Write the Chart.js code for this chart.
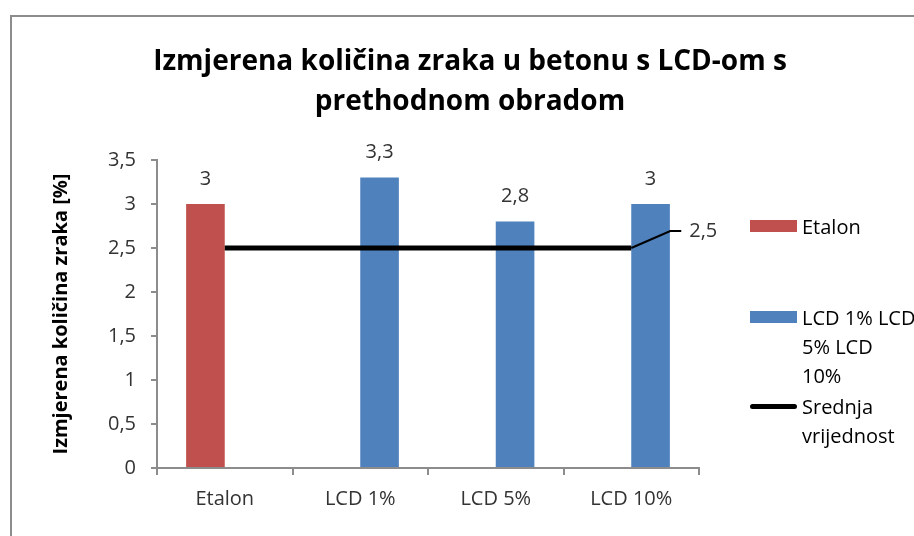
<!DOCTYPE html>
<html>
<head>
<meta charset="utf-8">
<script src="https://cdn.jsdelivr.net/npm/chart.js@4"></script>
<style>
  html, body { margin: 0; padding: 0; background: #fff; overflow: hidden; }
  body { width: 914px; height: 536px; position: relative; font-family: "Open Sans", sans-serif; }
  #frame { position: absolute; left: 10px; top: 15px; width: 1000px; height: 600px; border: 2px solid #8c8c8c; box-sizing: border-box; }
  #chart { position: absolute; left: 0; top: 0; }
  #title { position: absolute; left: 0; top: 39px; width: 940px; text-align: center; font-weight: bold; font-size: 28px; line-height: 40px; color: #000; }
  .leg { position: absolute; left: 750px; font-size: 20px; line-height: 29px; color: #000; white-space: nowrap; }
  .leg .sw { position: absolute; left: 0; width: 47px; }
  .leg .txt { position: absolute; left: 52px; top: 0; }
</style>
</head>
<body>
<div id="frame"></div>
<canvas id="chart" width="914" height="536"></canvas>
<div id="title">Izmjerena količina zraka u betonu s LCD-om s<br>prethodnom obradom</div>
<div id="legend"></div>
<script>
// chart data
var categories = ['Etalon', 'LCD 1%', 'LCD 5%', 'LCD 10%'];
var etalonValues = [3, null, null, null];
var lcdValues = [null, 3.3, 2.8, 3];
var meanValues = [2.5, 2.5, 2.5, 2.5];
var yTicks = [0, 0.5, 1, 1.5, 2, 2.5, 3, 3.5];
var seriesNames = ['Etalon', 'LCD 1% LCD 5% LCD 10%', 'Srednja vrijednost'];
var legendLines = [['Etalon'], ['LCD 1% LCD', '5% LCD', '10%'], ['Srednja', 'vrijednost']];

var RED = '#C0504D';
var BLUE = '#4F81BD';
var AXIS = '#8c8c8c';
var TXT = '#333333';

function comma(v) {
  return String(v).replace('.', ',');
}

// value labels above the bars + leader label on the last point of the mean line
var labelPlugin = {
  id: 'valueLabels',
  afterDatasetsDraw: function (chart) {
    var ctx = chart.ctx;
    ctx.save();
    ctx.font = '20px "Open Sans"';
    ctx.fillStyle = TXT;
    ctx.textAlign = 'center';
    ctx.textBaseline = 'middle';
    [0, 1].forEach(function (di) {
      var meta = chart.getDatasetMeta(di);
      var data = chart.data.datasets[di].data;
      meta.data.forEach(function (bar, i) {
        if (data[i] === null) return;
        ctx.fillText(comma(data[i]), bar.x, bar.y - 25);
      });
    });
    var lineMeta = chart.getDatasetMeta(2);
    var last = lineMeta.data[lineMeta.data.length - 1];
    var lineData = chart.data.datasets[2].data;
    ctx.strokeStyle = '#000';
    ctx.lineWidth = 2;
    ctx.beginPath();
    ctx.moveTo(last.x, last.y);
    ctx.lineTo(last.x + 39, last.y - 17);
    ctx.lineTo(last.x + 50, last.y - 17);
    ctx.stroke();
    ctx.textAlign = 'left';
    ctx.fillText(comma(lineData[lineData.length - 1]), last.x + 58, last.y - 17);
    ctx.restore();
  }
};

var chart = new Chart(document.getElementById('chart'), {
  type: 'bar',
  data: {
    labels: categories,
    datasets: [
      { label: seriesNames[0], data: etalonValues, backgroundColor: RED, order: 2 },
      { label: seriesNames[1], data: lcdValues, backgroundColor: BLUE, order: 2 },
      { type: 'line', label: seriesNames[2], data: meanValues, borderColor: '#000', borderWidth: 5,
        pointRadius: 0, fill: false, order: 1 }
    ]
  },
  options: {
    responsive: false,
    animation: false,
    categoryPercentage: 0.57,
    barPercentage: 1.0,
    layout: { padding: { left: 49, right: 215, top: 160, bottom: 0 } },
    plugins: {
      legend: { display: false },
      title: { display: false },
      tooltip: { enabled: false }
    },
    scales: {
      x: {
        grid: { display: true, drawOnChartArea: false, tickLength: 7, color: AXIS, lineWidth: 2 },
        border: { display: true, color: AXIS, width: 2 },
        ticks: { color: TXT, font: { family: 'Open Sans', size: 20 }, padding: 12 },
        afterFit: function (scale) { scale.height = 68; }
      },
      y: {
        min: 0,
        max: 3.5,
        afterBuildTicks: function (scale) {
          scale.ticks = yTicks.map(function (v) { return { value: v }; });
        },
        grid: { display: true, drawOnChartArea: false, tickLength: 6, color: AXIS, lineWidth: 2 },
        border: { display: true, color: AXIS, width: 2 },
        ticks: {
          color: TXT,
          font: { family: 'Open Sans', size: 20 },
          padding: 15,
          callback: function (v) { return comma(v); }
        },
        title: {
          display: true,
          text: 'Izmjerena količina zraka [%]',
          color: '#000',
          font: { family: 'Open Sans', size: 20, weight: 'bold' },
          padding: { top: 0, bottom: 0 }
        },
        afterFit: function (scale) { scale.width = 108; }
      }
    }
  },
  plugins: [labelPlugin]
});

// legend built from the chart's datasets
var legend = document.getElementById('legend');
var legTops = [212, 303, 392];
chart.data.datasets.forEach(function (ds, i) {
  var item = document.createElement('div');
  item.className = 'leg';
  item.style.top = legTops[i] + 'px';
  var sw = document.createElement('div');
  sw.className = 'sw';
  if (ds.type === 'line') {
    sw.style.top = '12px';
    sw.style.height = '5px';
    sw.style.borderRadius = '3px';
    sw.style.background = ds.borderColor;
  } else {
    sw.style.top = '8px';
    sw.style.height = '12px';
    sw.style.background = ds.backgroundColor;
  }
  var txt = document.createElement('div');
  txt.className = 'txt';
  txt.innerHTML = legendLines[i].join('<br>');
  item.appendChild(sw);
  item.appendChild(txt);
  legend.appendChild(item);
});
</script>
</body>
</html>
